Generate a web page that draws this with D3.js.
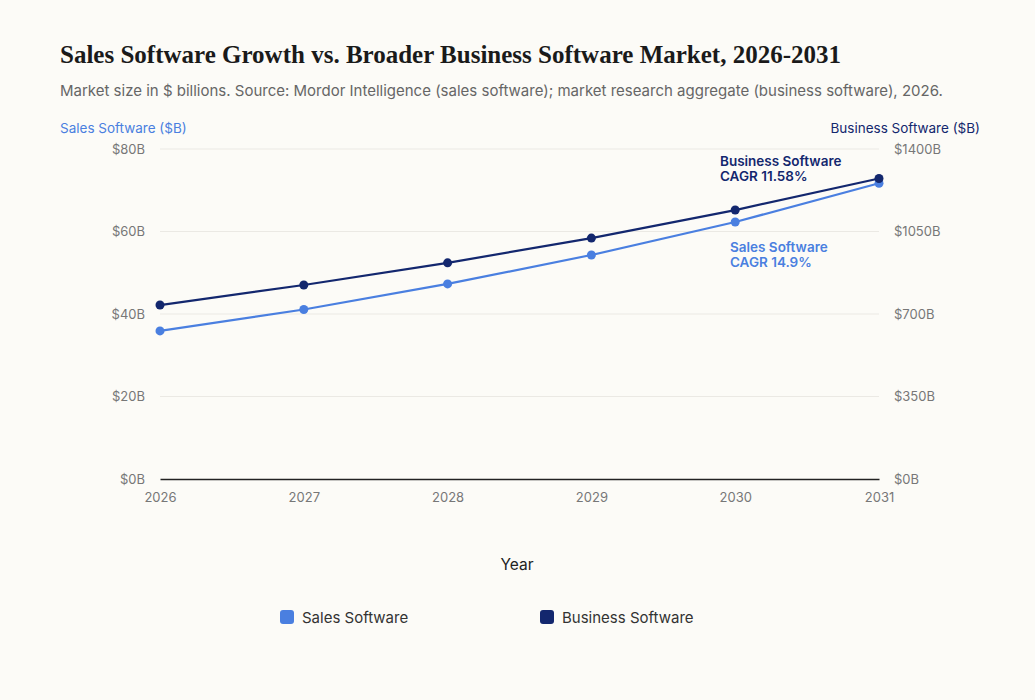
<!DOCTYPE html>
<html><head><meta charset="utf-8">
<script src="https://cdn.jsdelivr.net/npm/d3@7"></script>
<style>
body{margin:0;background:#fcfbf7;font-family:Inter,sans-serif;}
</style></head><body>
<svg id="chart" width="1035" height="700"></svg>
<script>
const years = [2026, 2027, 2028, 2029, 2030, 2031];
const salesSoftware = [35.9, 41.1, 47.3, 54.3, 62.3, 71.7];
const businessSoftware = [738, 823, 917, 1022, 1141, 1275];
const leftTicks = [0, 20, 40, 60, 80];
const rightTicks = [0, 350, 700, 1050, 1400];

const svg = d3.select('#chart');
const margin = { top: 149, left: 160, right: 156, bottom: 221 };
const width = 1035, height = 700;

const x = d3.scaleLinear().domain([2026, 2031]).range([margin.left, width - margin.right]);
const yL = d3.scaleLinear().domain([0, 80]).range([height - margin.bottom - 0, margin.top]);
const yR = d3.scaleLinear().domain([0, 1400]).range([height - margin.bottom, margin.top]);

const light = '#4a7fe0', dark = '#13276e';

svg.append('rect').attr('width', width).attr('height', height).attr('fill', '#fcfbf7');

svg.append('text').attr('x', 60).attr('y', 63)
  .attr('font-family', '"Liberation Serif", serif').attr('font-weight', 'bold').attr('font-size', 25)
  .attr('fill', '#1a1a1a').text('Sales Software Growth vs. Broader Business Software Market, 2026-2031');
svg.append('text').attr('x', 60).attr('y', 96).attr('font-size', 15).attr('fill', '#666')
  .text('Market size in $ billions. Source: Mordor Intelligence (sales software); market research aggregate (business software), 2026.');

svg.append('text').attr('x', 60).attr('y', 133).attr('font-size', 13.5).attr('fill', light).text('Sales Software ($B)');
svg.append('text').attr('x', 980).attr('y', 133).attr('font-size', 13.5).attr('fill', dark)
  .attr('text-anchor', 'end').text('Business Software ($B)');

// grid
svg.append('g').selectAll('line').data(leftTicks.slice(1)).join('line')
  .attr('x1', x(2026)).attr('x2', x(2031)).attr('y1', d => yL(d)).attr('y2', d => yL(d))
  .attr('stroke', '#ebe9e4');

const axL = svg.append('g').attr('transform', `translate(${x(2026)},0)`)
  .call(d3.axisLeft(yL).tickValues(leftTicks).tickFormat(d => `$${d}B`).tickSize(0).tickPadding(15));
const axR = svg.append('g').attr('transform', `translate(${x(2031)},0)`)
  .call(d3.axisRight(yR).tickValues(rightTicks).tickFormat(d => `$${d}B`).tickSize(0).tickPadding(15));
const axX = svg.append('g').attr('transform', `translate(0,${yL(0)})`)
  .call(d3.axisBottom(x).tickValues(years).tickFormat(d3.format('d')).tickSize(0).tickPadding(14));
[axL, axR].forEach(a => a.select('.domain').remove());
axX.select('.domain').attr('stroke', '#222').attr('stroke-width', 1.3);
svg.selectAll('.tick text').attr('font-family', 'Inter').attr('font-size', 13).attr('fill', '#777');

svg.append('text').attr('x', 517).attr('y', 570).attr('text-anchor', 'middle')
  .attr('font-size', 15.5).attr('fill', '#222').text('Year');

function series(vals, y, color) {
  svg.append('path').datum(vals).attr('fill', 'none').attr('stroke', color).attr('stroke-width', 2.2)
    .attr('d', d3.line().x((d, i) => x(years[i])).y(d => y(d)));
  svg.append('g').selectAll('circle').data(vals).join('circle')
    .attr('cx', (d, i) => x(years[i])).attr('cy', d => y(d)).attr('r', 4.5).attr('fill', color);
}
series(salesSoftware, yL, light);
series(businessSoftware, yR, dark);

function label(lines, px, py, color) {
  const t = svg.append('text').attr('x', px).attr('y', py).attr('font-size', 13.5)
    .attr('font-weight', 600).attr('fill', color);
  lines.forEach((l, i) => t.append('tspan').attr('x', px).attr('dy', i ? 15 : 0).text(l));
}
label(['Business Software', 'CAGR 11.58%'], 720, 166, dark);
label(['Sales Software', 'CAGR 14.9%'], 730, 252, light);

const legend = [['Sales Software', light, 280], ['Business Software', dark, 540]];
legend.forEach(([name, c, lx]) => {
  svg.append('rect').attr('x', lx).attr('y', 610).attr('width', 14).attr('height', 14).attr('rx', 3).attr('fill', c);
  svg.append('text').attr('x', lx + 22).attr('y', 623).attr('font-size', 15).attr('fill', '#333').text(name);
});
</script></body></html>
